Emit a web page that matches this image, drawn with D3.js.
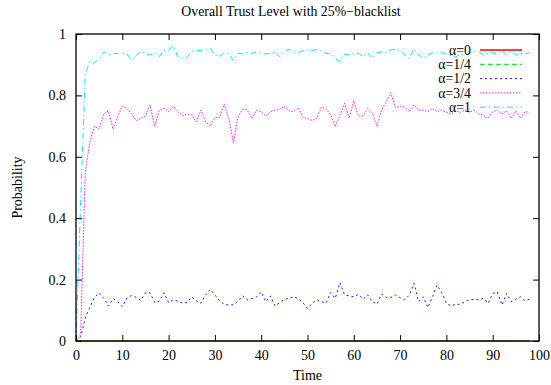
<!DOCTYPE html>
<html>
<head>
<meta charset="utf-8">
<script src="https://cdn.jsdelivr.net/npm/d3@7/dist/d3.min.js"></script>
<style>
  body { margin: 0; background: #fff; }
</style>
</head>
<body>
<div id="chart"></div>
<script>
// Overall trust level, 25% blacklist

const title = "Overall Trust Level with 25%\u2212blacklist";
const xTicks = [0, 10, 20, 30, 40, 50, 60, 70, 80, 90, 100];
const yTicks = [0, 0.2, 0.4, 0.6, 0.8, 1];
const time = d3.range(0, 99);

const alpha0 = [0,0,0,0,0,0,0,0,0,0,0,0,0,0,0,0,0,0,0,0,0,0,0,0,0,0,0,0,0,0,0,0,0,0,0,0,0,0,0,0,0,0,0,0,0,0,0,0,0,0,
  0,0,0,0,0,0,0,0,0,0,0,0,0,0,0,0,0,0,0,0,0,0,0,0,0,0,0,0,0,0,0,0,0,0,0,0,0,0,0,0,0,0,0,0,0,0,0,0,0];
const alpha14 = [0,0,0,0,0,0,0,0,0,0,0,0,0,0,0,0,0,0,0,0,0,0,0,0,0,0,0,0,0,0,0,0,0,0,0,0,0,0,0,0,0,0,0,0,0,0,0,0,0,0,
  0,0,0,0,0,0,0,0,0,0,0,0,0,0,0,0,0,0,0,0,0,0,0,0,0,0,0,0,0,0,0,0,0,0,0,0,0,0,0,0,0,0,0,0,0,0,0,0,0];
const alpha12 = [0, 0.014, 0.075, 0.11, 0.142, 0.157, 0.139, 0.114, 0.138, 0.128,
  0.112, 0.14, 0.148, 0.142, 0.132, 0.157, 0.157, 0.125, 0.13, 0.157,
  0.125, 0.134, 0.13, 0.124, 0.125, 0.144, 0.131, 0.123, 0.15, 0.168,
  0.15, 0.131, 0.12, 0.117, 0.118, 0.13, 0.147, 0.134, 0.138, 0.144,
  0.16, 0.128, 0.147, 0.114, 0.125, 0.136, 0.139, 0.144, 0.138, 0.125,
  0.106, 0.123, 0.134, 0.128, 0.123, 0.158, 0.139, 0.19, 0.15, 0.147,
  0.144, 0.152, 0.136, 0.15, 0.128, 0.12, 0.153, 0.142, 0.142, 0.15,
  0.141, 0.134, 0.15, 0.188, 0.128, 0.144, 0.109, 0.144, 0.182, 0.157,
  0.123, 0.114, 0.12, 0.119, 0.128, 0.134, 0.136, 0.134, 0.139, 0.123,
  0.155, 0.16, 0.117, 0.155, 0.128, 0.136, 0.144, 0.131, 0.136];
const alpha34 = [0, 0.02, 0.55, 0.65, 0.70, 0.69, 0.74, 0.75, 0.69, 0.73,
  0.765, 0.758, 0.74, 0.718, 0.725, 0.733, 0.769, 0.698, 0.752, 0.758,
  0.747, 0.765, 0.747, 0.733, 0.74, 0.736, 0.714, 0.752, 0.714, 0.70,
  0.728, 0.728, 0.772, 0.725, 0.646, 0.73, 0.755, 0.752, 0.725, 0.752,
  0.747, 0.733, 0.747, 0.752, 0.754, 0.765, 0.75, 0.747, 0.76, 0.728,
  0.725, 0.718, 0.725, 0.762, 0.757, 0.736, 0.698, 0.736, 0.774, 0.725,
  0.782, 0.733, 0.733, 0.757, 0.743, 0.70, 0.752, 0.779, 0.809, 0.76,
  0.765, 0.762, 0.747, 0.769, 0.752, 0.752, 0.747, 0.757, 0.747, 0.752,
  0.745, 0.74, 0.75, 0.745, 0.752, 0.745, 0.752, 0.74, 0.736, 0.725,
  0.747, 0.752, 0.74, 0.75, 0.725, 0.75, 0.725, 0.747, 0.745];
const alpha1 = [0, 0.45, 0.87, 0.91, 0.905, 0.921, 0.942, 0.931, 0.935, 0.937,
  0.937, 0.935, 0.915, 0.93, 0.942, 0.937, 0.931, 0.939, 0.926, 0.948,
  0.948, 0.961, 0.926, 0.921, 0.924, 0.944, 0.946, 0.947, 0.95, 0.953,
  0.932, 0.926, 0.939, 0.935, 0.913, 0.937, 0.935, 0.939, 0.937, 0.942,
  0.937, 0.935, 0.937, 0.942, 0.926, 0.942, 0.95, 0.942, 0.939, 0.946,
  0.948, 0.946, 0.95, 0.944, 0.937, 0.935, 0.921, 0.91, 0.935, 0.932,
  0.935, 0.937, 0.926, 0.939, 0.921, 0.939, 0.942, 0.939, 0.948, 0.95,
  0.946, 0.932, 0.921, 0.953, 0.932, 0.921, 0.932, 0.939, 0.937, 0.939,
  0.935, 0.93, 0.925, 0.935, 0.93, 0.937, 0.944, 0.942, 0.932, 0.937,
  0.939, 0.932, 0.944, 0.932, 0.944, 0.932, 0.937, 0.935, 0.939];

const seriesNames = ["\u03b1=0", "\u03b1=1/4", "\u03b1=1/2", "\u03b1=3/4", "\u03b1=1"];
const seriesValues = [alpha0, alpha14, alpha12, alpha34, alpha1];

// line styles (gnuplot look)
const styles = [
  { color: "#ff0000", dash: null, width: 1.6, opacity: 0.75 },
  { color: "#00e000", dash: "5,3", width: 1, opacity: 1 },
  { color: "#0000ff", dash: "2,3", width: 1, opacity: 0.9 },
  { color: "#ff00ff", dash: "1.5,1.5", width: 1, opacity: 0.9 },
  { color: "#00eeee", dash: "6,3,1.5,3", width: 1, opacity: 1 }
];

const width = 551;
const height = 385;
const margin = { top: 34, right: 12, bottom: 44, left: 76 };
const font = "'Liberation Serif', 'Times New Roman', serif";

const svg = d3.select("#chart").append("svg")
  .attr("width", width)
  .attr("height", height)
  .style("font-family", font);

const x = d3.scaleLinear().domain([0, 100]).range([margin.left, width - margin.right]);
const y = d3.scaleLinear().domain([0, 1]).range([height - margin.bottom, margin.top]);

// lines
const line = d3.line()
  .x((d, i) => x(time[i]))
  .y(d => y(d));

const plot = svg.append("g");
seriesValues.forEach((vals, k) => {
  const s = styles[k];
  plot.append("path")
    .datum(vals)
    .attr("fill", "none")
    .attr("stroke", s.color)
    .attr("stroke-width", s.width)
    .attr("stroke-opacity", s.opacity)
    .attr("stroke-dasharray", s.dash)
    .attr("d", line);
});

// axes, ticks pointing inward on all four sides
const tickLen = 6;
svg.append("g")
  .attr("transform", `translate(0,${height - margin.bottom})`)
  .call(d3.axisBottom(x).tickValues(xTicks).tickSizeInner(-tickLen).tickSizeOuter(0).tickPadding(9))
  .call(g => g.select(".domain").remove())
  .selectAll("text")
  .style("font-size", "14px")
  .style("font-family", font);

svg.append("g")
  .attr("transform", `translate(0,${margin.top})`)
  .call(d3.axisTop(x).tickValues(xTicks).tickSizeInner(-tickLen).tickSizeOuter(0).tickFormat(""))
  .call(g => g.select(".domain").remove());

svg.append("g")
  .attr("transform", `translate(${margin.left},0)`)
  .call(d3.axisLeft(y).tickValues(yTicks).tickSizeInner(-tickLen).tickSizeOuter(0).tickPadding(10).tickFormat(d3.format("~g")))
  .call(g => g.select(".domain").remove())
  .selectAll("text")
  .style("font-size", "14px")
  .style("font-family", font);

svg.append("g")
  .attr("transform", `translate(${width - margin.right},0)`)
  .call(d3.axisRight(y).tickValues(yTicks).tickSizeInner(-tickLen).tickSizeOuter(0).tickFormat(""))
  .call(g => g.select(".domain").remove());

svg.selectAll(".tick line").attr("stroke", "#000");

// frame
svg.append("rect")
  .attr("x", margin.left)
  .attr("y", margin.top)
  .attr("width", width - margin.left - margin.right)
  .attr("height", height - margin.top - margin.bottom)
  .attr("fill", "none")
  .attr("stroke", "#000")
  .attr("stroke-width", 1.3);

// title and axis labels
svg.append("text")
  .attr("x", 291)
  .attr("y", 16)
  .attr("text-anchor", "middle")
  .style("font-size", "13.8px")
  .text(title);

svg.append("text")
  .attr("x", (margin.left + width - margin.right) / 2)
  .attr("y", 380)
  .attr("text-anchor", "middle")
  .style("font-size", "14px")
  .text("Time");

svg.append("text")
  .attr("transform", `translate(22,${(margin.top + height - margin.bottom) / 2}) rotate(-90)`)
  .attr("text-anchor", "middle")
  .style("font-size", "14px")
  .text("Probability");

// legend, top right inside the plot
const legend = svg.append("g").attr("transform", "translate(471,50)");
seriesNames.forEach((name, k) => {
  const s = styles[k];
  const yy = k * 14.3;
  legend.append("text")
    .attr("x", 0)
    .attr("y", yy + 4.8)
    .attr("text-anchor", "end")
    .style("font-size", "13.8px")
    .text(name);
  legend.append("line")
    .attr("x1", 9)
    .attr("x2", 51)
    .attr("y1", yy)
    .attr("y2", yy)
    .attr("stroke", s.color)
    .attr("stroke-width", k === 0 ? 2 : s.width)
    .attr("stroke-opacity", s.opacity)
    .attr("stroke-dasharray", s.dash);
});
</script>
</body>
</html>
